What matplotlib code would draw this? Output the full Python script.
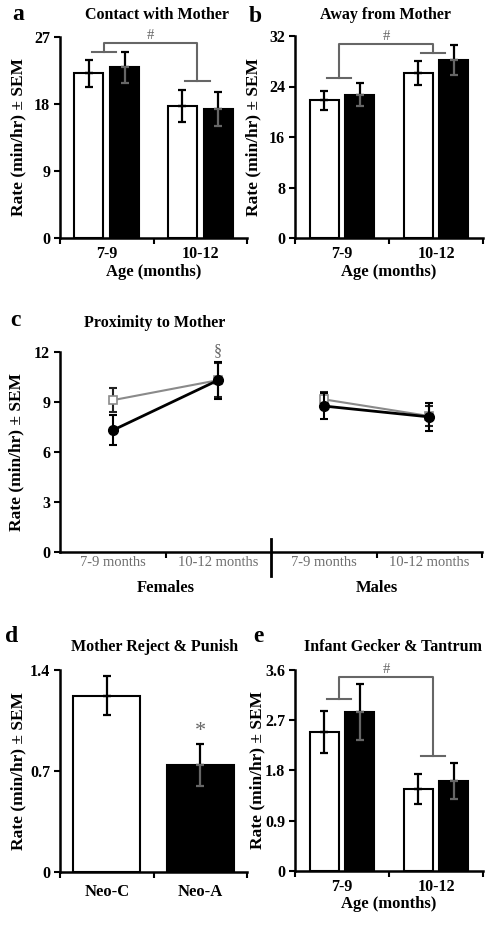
import numpy as np
import matplotlib.pyplot as plt
from matplotlib import ticker

plt.rcParams['font.family'] = ['Liberation Serif', 'DejaVu Serif']
plt.rcParams['font.weight'] = 'bold'

# dane (biały = Neo-C, czarny = Neo-A)
ages = ['7-9', '10-12']

contact_c = [22.1, 17.7]
contact_c_sem = [1.8, 2.1]
contact_a = [22.9, 17.3]
contact_a_sem = [2.1, 2.3]

away_c = [21.8, 26.2]
away_c_sem = [1.45, 1.9]
away_a = [22.7, 28.2]
away_a_sem = [1.85, 2.4]

prox_ages = ['7-9 months', '10-12 months', '7-9 months', '10-12 months']
prox_sex = ['Females', 'Males']
prox_c = [9.1, 10.3, 9.15, 8.15]
prox_c_sem = [0.7, 1.0, 0.45, 0.6]
prox_a = [7.3, 10.3, 8.75, 8.1]
prox_a_sem = [0.9, 1.1, 0.8, 0.85]

reject_groups = ['Neo-C', 'Neo-A']
reject = [1.22, 0.74]
reject_sem = [0.135, 0.145]

gecker_c = [2.49, 1.46]
gecker_c_sem = [0.37, 0.27]
gecker_a = [2.84, 1.61]
gecker_a_sem = [0.5, 0.33]

W, H = 494, 927
fig = plt.figure(figsize=(W / 100, H / 100), dpi=100)
GRAY = '#666666'
FS = 11.5


def box(x0, y0, x1, y1):
    # prostokąt osi w pikselach obrazka
    return fig.add_axes([x0 / W, 1 - y1 / H, (x1 - x0) / W, (y1 - y0) / H])


def label(x, y, s, size=FS, **kw):
    fig.text(x / W, 1 - y / H, s, fontsize=size, ha='center', va='center', **kw)


def style(ax, ymax, step, ylab_x):
    for s in ['top', 'right']:
        ax.spines[s].set_visible(False)
    for s in ['left', 'bottom']:
        ax.spines[s].set_linewidth(1.8)
    ax.set_ylim(0, ymax)
    ax.set_yticks(np.arange(0, ymax + step / 2, step))
    ax.yaxis.set_major_formatter(ticker.FuncFormatter(lambda v, p: f'{v:g}'))
    ax.tick_params(axis='y', direction='out', length=4, width=1.5, labelsize=FS, pad=3)
    ax.tick_params(axis='x', which='major', direction='out', length=4, width=1.5)
    ax.set_ylabel('Rate (min/hr) ± SEM', fontsize=12.5, fontweight='bold')
    ax.yaxis.set_label_coords(ylab_x, 0.5)


def errs(ax, x, y, sem, lower_color='black'):
    ax.errorbar(x, y, yerr=[[0] * len(y), sem], fmt='none', ecolor='black',
                elinewidth=1.6, capsize=3, capthick=1.6, zorder=4)
    ax.errorbar(x, y, yerr=[sem, [0] * len(y)], fmt='none', ecolor=lower_color,
                elinewidth=1.6, capsize=3, capthick=1.6, zorder=4)


def bar_panel(ax, c, c_sem, a, a_sem, ymax, step, levels, ylab_x):
    x = np.arange(len(ages)) + 0.5
    ax.bar(x - 0.19, c, 0.31, color='white', edgecolor='black', linewidth=1.5, zorder=2)
    ax.bar(x + 0.19, a, 0.31, color='black', edgecolor='black', linewidth=1.5, zorder=2)
    errs(ax, x - 0.19, c, c_sem)
    errs(ax, x + 0.19, a, a_sem, lower_color=GRAY)
    style(ax, ymax, step, ylab_x)
    ax.set_xlim(0, 2)
    ax.set_xticks([0, 1, 2])
    ax.set_xticklabels([])
    ax.set_xticks(x, minor=True)
    ax.set_xticklabels(ages, minor=True)
    ax.tick_params(axis='x', which='minor', length=0, labelsize=FS, pad=6)
    ax.set_xlabel('Age (months)', fontsize=12, fontweight='bold', labelpad=1)
    # klamra istotności (#)
    y1, y2, top = levels
    g1, g2 = x[0] - 0.03, x[1] - 0.03
    kw = dict(color=GRAY, lw=1.5, clip_on=False, zorder=3)
    ax.plot([g1 - 0.13, g1 + 0.13], [y1, y1], **kw)
    ax.plot([g2 - 0.13, g2 + 0.13], [y2, y2], **kw)
    ax.plot([g1, g1, g2, g2], [y1, top, top, y2], **kw)
    ax.text((g1 + g2) / 2, top + ymax * 0.005, '#', color=GRAY, fontsize=10.5,
            fontweight='normal', ha='center', va='bottom', clip_on=False)


# a
ax_a = box(60, 36.7, 247, 238)
bar_panel(ax_a, contact_c, contact_c_sem, contact_a, contact_a_sem, 27, 9,
          (25.0, 21.0, 26.2), -0.18)
label(157, 15, 'Contact with Mother')
label(18, 15, 'a', size=17)

# b
ax_b = box(295, 36, 483, 238)
bar_panel(ax_b, away_c, away_c_sem, away_a, away_a_sem, 32, 8,
          (25.3, 29.35, 30.7), -0.18)
label(385, 15, 'Away from Mother')
label(255, 17, 'b', size=17)

# c
ax_c = box(60, 351.7, 482, 552.3)
style(ax_c, 12, 3, -0.085)
ax_c.set_xlim(0, 4)
xc = np.arange(len(prox_ages)) + 0.5
for part in [slice(0, 2), slice(2, 4)]:
    ax_c.plot(xc[part], prox_c[part], color='#8a8a8a', lw=1.5, marker='s', ms=6,
              mfc='white', mec='#8a8a8a', mew=1.2, zorder=3)
    ax_c.plot(xc[part], prox_a[part], color='black', lw=2, marker='o', ms=7,
              mfc='black', mec='black', zorder=5)
ax_c.errorbar(xc, prox_c, yerr=prox_c_sem, fmt='none', ecolor='#222222',
              elinewidth=1.5, capsize=3, capthick=1.5, zorder=2)
ax_c.errorbar(xc, prox_a, yerr=prox_a_sem, fmt='none', ecolor='black',
              elinewidth=1.5, capsize=3, capthick=1.5, zorder=4)
ax_c.set_xticks([1, 3, 4])
ax_c.set_xticklabels([])
ax_c.set_xticks(xc, minor=True)
ax_c.set_xticklabels(prox_ages, minor=True, color='#6e6e6e', fontweight='normal')
ax_c.tick_params(axis='x', which='minor', length=0, labelsize=10.5, pad=3)
ax_c.plot([2, 2], [0.8, -1.4], color='black', lw=2, clip_on=False)
for i, s in enumerate(prox_sex):
    ax_c.text(2 * i + 1, -2.15, s, fontsize=12, ha='center', va='center', clip_on=False)
ax_c.text(xc[1], prox_a[1] + prox_a_sem[1] + 0.15, '§', color=GRAY, fontsize=11.5,
          fontweight='normal', ha='center', va='bottom', clip_on=False)
label(155, 323, 'Proximity to Mother')
label(15, 321, 'c', size=17)

# d
ax_d = box(60, 670, 247, 871.7)
xd = np.arange(len(reject_groups)) + 0.5
ax_d.bar(xd, reject, 0.72, color=['white', 'black'], edgecolor='black', linewidth=1.5, zorder=2)
errs(ax_d, xd[:1], reject[:1], reject_sem[:1])
errs(ax_d, xd[1:], reject[1:], reject_sem[1:], lower_color=GRAY)
style(ax_d, 1.4, 0.7, -0.18)
ax_d.set_xlim(0, 2)
ax_d.set_xticks([0, 1, 2])
ax_d.set_xticklabels([])
ax_d.set_xticks(xd, minor=True)
ax_d.set_xticklabels(reject_groups, minor=True)
ax_d.tick_params(axis='x', which='minor', length=0, labelsize=12, pad=9)
ax_d.text(xd[1], reject[1] + reject_sem[1] + 0.02, '*', color=GRAY, fontsize=16,
          fontweight='normal', ha='center', va='bottom')
label(155, 647, 'Mother Reject & Punish')
label(12, 637, 'd', size=17)

# e
ax_e = box(295, 670, 483, 870.7)
bar_panel(ax_e, gecker_c, gecker_c_sem, gecker_a, gecker_a_sem, 3.6, 0.9,
          (3.08, 2.05, 3.47), -0.16)
label(393, 647, 'Infant Gecker & Tantrum')
label(258, 637, 'e', size=17)

fig.savefig('out.png', dpi=100)
